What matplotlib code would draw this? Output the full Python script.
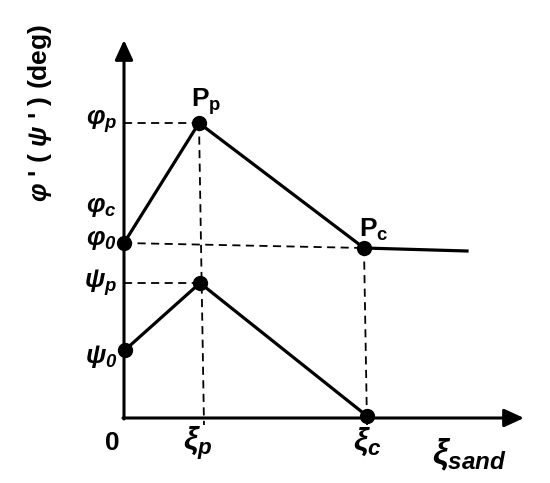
import matplotlib
matplotlib.use("Agg")
import matplotlib.pyplot as plt

plt.rcParams['font.family'] = ['Liberation Sans', 'DejaVu Sans']
plt.rcParams['mathtext.fontset'] = 'custom'
plt.rcParams['mathtext.rm'] = 'Liberation Sans:bold'
plt.rcParams['mathtext.it'] = 'Liberation Sans:italic:bold'
plt.rcParams['mathtext.bf'] = 'Liberation Sans:bold'
plt.rcParams['mathtext.sf'] = 'Liberation Sans:italic:bold'

# esquema: unidades arbitrarias (origen en 0,0)
xi_phi = [0, 75, 240, 343]      # xi: 0, xi_p, xi_c, final
phi = [175, 295, 170, 167]      # phi_0, phi_p, phi_c, meseta
xi_psi = [1, 76, 243]
psi = [68, 135, 2]              # psi_0, psi_p, 0 en xi_c
xi_max = 400
y_max = 378

fig = plt.figure(figsize=(5.5, 4.83), dpi=100)
ax = fig.add_axes([0, 0, 1, 1])
ax.set_xlim(-124, 426)
ax.set_ylim(-65, 418)
ax.axis('off')

# ejes con flecha
ax.annotate('', xy=(0, y_max), xytext=(0, -1),
            arrowprops=dict(arrowstyle='-|>,head_length=1.2,head_width=0.55',
                            lw=2.2, color='black', mutation_scale=10, shrinkA=0, shrinkB=0))
ax.annotate('', xy=(xi_max, 0), xytext=(-1, 0),
            arrowprops=dict(arrowstyle='-|>,head_length=1.2,head_width=0.55',
                            lw=2.2, color='black', mutation_scale=10, shrinkA=0, shrinkB=0))

# lineas discontinuas de referencia
dash = dict(color='black', lw=1.3, linestyle=(0, (4.5, 3)))
ax.plot([0, xi_phi[1]], [phi[1], phi[1]], **dash)
ax.plot([0, xi_phi[2]], [phi[0], phi[2]], **dash)
ax.plot([0, xi_psi[1]], [psi[1], psi[1]], **dash)
ax.plot([xi_phi[1], xi_psi[1] + 4], [phi[1], -7], **dash)
ax.plot([xi_phi[2], xi_psi[2]], [phi[2], -7], **dash)

# curvas phi y psi
ax.plot(xi_phi, phi, color='black', lw=2.3, solid_joinstyle='miter')
ax.plot(xi_phi[:3], phi[:3], 'o', color='black', ms=10)
ax.plot(xi_psi, psi, color='black', lw=2.3, solid_joinstyle='miter')
ax.plot(xi_psi, psi, 'o', color='black', ms=10)

fs = 19
ax.text(-7, phi[1] + 2, r'$\varphi_p$', fontsize=fs, ha='right', va='center')
ax.text(-7, 211, r'$\varphi_c$', fontsize=fs, ha='right', va='center')
ax.text(-7, 178, r'$\varphi_\mathsf{0}$', fontsize=fs, ha='right', va='center')
ax.text(-7, psi[1], r'$\psi_p$', fontsize=fs, ha='right', va='center')
ax.text(-7, 62, r'$\psi_\mathsf{0}$', fontsize=fs, ha='right', va='center')
ax.text(-12, -25, '0', fontsize=fs, fontweight='bold', ha='center', va='center')
ax.text(74, -25, r'$\xi_p$', fontsize=23, ha='center', va='center')
ax.text(243, -24, r'$\xi_c$', fontsize=23, ha='center', va='center')
ax.text(345, -37, r'$\xi_{sand}$', fontsize=25, ha='center', va='center')
ax.text(82, 316, r'$\mathrm{P}_\mathrm{p}$', fontsize=fs, ha='center', va='center')
ax.text(250, 188, r'$\mathrm{P}_\mathrm{c}$', fontsize=fs, ha='center', va='center')

ax.text(-84, 305, r"$\varphi$ ' ( $\psi$ ' ) (deg)", fontsize=19, fontweight='bold',
        rotation=90, ha='center', va='center')

fig.savefig('out.png', dpi=100)
